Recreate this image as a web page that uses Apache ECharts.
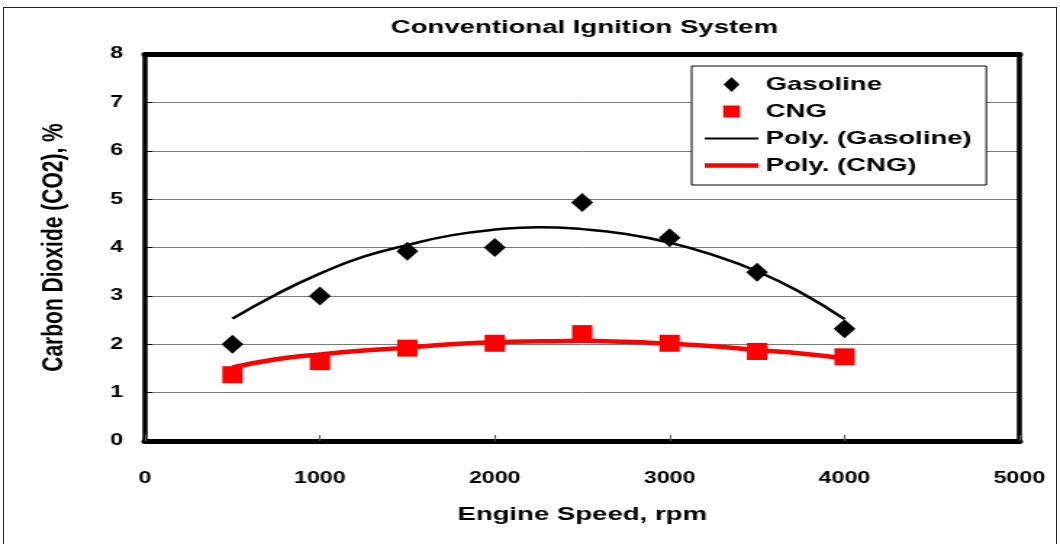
<!DOCTYPE html>
<html>
<head>
<meta charset="utf-8">
<title>Conventional Ignition System</title>
<script src="https://cdn.jsdelivr.net/npm/echarts@6/dist/echarts.min.js"></script>
<style>
html, body { margin: 0; padding: 0; background: #fff; overflow: hidden; }
#frame { position: absolute; left: 3px; top: 7px; width: 1052px; height: 600px; border: 1px solid #222; z-index: 2; pointer-events: none; }
/* the source picture is stretched sideways, so the chart is drawn narrow and widened */
#main { position: absolute; left: 0; top: 0; width: 731px; height: 544px; transform: scaleX(1.45); transform-origin: 0 0; }
</style>
</head>
<body>
<div id="main"></div>
<div id="frame"></div>
<script>
// measured points
var speed = [500, 1000, 1500, 2000, 2500, 3000, 3500, 4000];
var gasoline = [2.0, 3.0, 3.92, 4.0, 4.93, 4.2, 3.49, 2.32];
var cng = [1.37, 1.64, 1.92, 2.02, 2.22, 2.02, 1.85, 1.74];

// trend lines
var polySpeed = [500, 750, 1000, 1250, 1500, 1750, 2000, 2250, 2500, 2750, 3000, 3250, 3500, 3750, 4000];
var gasolinePoly = [2.53, 3.03, 3.46, 3.81, 4.05, 4.25, 4.37, 4.42, 4.38, 4.28, 4.10, 3.84, 3.51, 3.07, 2.52];
var cngPoly = [1.52, 1.69, 1.79, 1.87, 1.93, 2.0, 2.04, 2.06, 2.07, 2.05, 2.01, 1.96, 1.88, 1.81, 1.71];

var font = 'Liberation Sans, Arial, sans-serif';

function pairs(xs, ys) {
	return xs.map(function(x, i) { return [x, ys[i]]; });
}

// legend marks (drawn narrow, they get widened with the rest)
var iconDiamond = 'path://M5.5,0L11,7.5L5.5,15L0,7.5Z';
var iconSquare = 'path://M0,0L0.01,0M0,1.4L11.5,1.4L11.5,13.6L0,13.6ZM0,15L0.01,15';
var iconThin = 'path://M0,0L40,0L40,2.4L0,2.4Z';
var iconThick = 'path://M0,0L40,0L40,5L0,5Z';

// plain axis used only for the frame on top and right
function frameAxis(pos, max) {
	return {
		type: 'value',
		position: pos,
		min: 0,
		max: max,
		axisLine: { show: true, onZero: false, lineStyle: { color: '#000', width: pos == 'top' ? 5 : 3.5 } },
		axisTick: { show: false },
		axisLabel: { show: false },
		splitLine: { show: false }
	};
}

var myChart = echarts.init(document.getElementById('main'));
var option = {
	animation: false,
	backgroundColor: 'transparent',
	title: {
		text: 'Conventional Ignition System',
		left: 403,
		top: 18,
		padding: 0,
		textAlign: 'center',
		textStyle: { fontFamily: font, fontWeight: 'bold', fontSize: 19, color: '#000' }
	},
	legend: {
		orient: 'vertical',
		left: 477,
		top: 66,
		padding: [9, 10, 10, 9],
		itemWidth: 37,
		itemHeight: 15,
		itemGap: 8,
		backgroundColor: '#fff',
		borderColor: '#000',
		borderWidth: 1,
		textStyle: { fontFamily: font, fontWeight: 'bold', fontSize: 19, color: '#000' },
		data: [
			{ name: 'Gasoline', icon: iconDiamond },
			{ name: 'CNG', icon: iconSquare },
			{ name: 'Poly. (Gasoline)', icon: iconThin },
			{ name: 'Poly. (CNG)', icon: iconThick }
		]
	},
	grid: {
		left: 100,
		right: 28,
		top: 54,
		bottom: 103
	},
	xAxis: [{
		type: 'value',
		min: 0,
		max: 5000,
		interval: 1000,
		name: 'Engine Speed, rpm',
		nameLocation: 'middle',
		nameGap: 64,
		nameTextStyle: { fontFamily: font, fontWeight: 'bold', fontSize: 19, color: '#000' },
		axisLine: { show: true, onZero: false, lineStyle: { color: '#000', width: 5 } },
		axisTick: { show: true, inside: true, length: 6, lineStyle: { color: '#555' } },
		axisLabel: {
			margin: 30, fontFamily: font, fontWeight: 'bold', fontSize: 16, color: '#000',
			formatter: function(v) { return String(v); }
		},
		splitLine: { show: false }
	}, frameAxis('top', 5000)],
	yAxis: [{
		type: 'value',
		min: 0,
		max: 8,
		interval: 1,
		name: 'Carbon Dioxide (CO2), %',
		nameLocation: 'middle',
		nameGap: 52,
		nameTextStyle: { fontFamily: font, fontWeight: 'bold', fontSize: 21, color: '#000' },
		axisLine: { show: true, onZero: false, lineStyle: { color: '#000', width: 3.5 } },
		axisTick: { show: true, inside: true, length: 5, lineStyle: { color: '#000' } },
		axisLabel: { margin: 15, fontFamily: font, fontWeight: 'bold', fontSize: 16, color: '#000' },
		splitLine: { show: true, lineStyle: { color: '#7a7a7a', width: 1 } }
	}, frameAxis('right', 8)],
	series: [{
		name: 'Gasoline',
		type: 'scatter',
		symbol: 'diamond',
		symbolSize: [15, 19],
		itemStyle: { color: '#000', opacity: 1 },
		z: 4,
		data: pairs(speed, gasoline)
	}, {
		name: 'CNG',
		type: 'scatter',
		symbol: 'rect',
		symbolSize: [14, 17],
		itemStyle: { color: '#ff0000', opacity: 1 },
		z: 4,
		data: pairs(speed, cng)
	}, {
		name: 'Poly. (Gasoline)',
		type: 'line',
		smooth: true,
		symbol: 'none',
		showSymbol: false,
		itemStyle: { color: '#000' },
		lineStyle: { color: '#000', width: 2.5 },
		z: 3,
		data: pairs(polySpeed, gasolinePoly)
	}, {
		name: 'Poly. (CNG)',
		type: 'line',
		smooth: true,
		symbol: 'none',
		showSymbol: false,
		itemStyle: { color: '#ff0000' },
		lineStyle: { color: '#ff0000', width: 4.5 },
		z: 3,
		data: pairs(polySpeed, cngPoly)
	}]
};
myChart.setOption(option);
</script>
</body>
</html>
